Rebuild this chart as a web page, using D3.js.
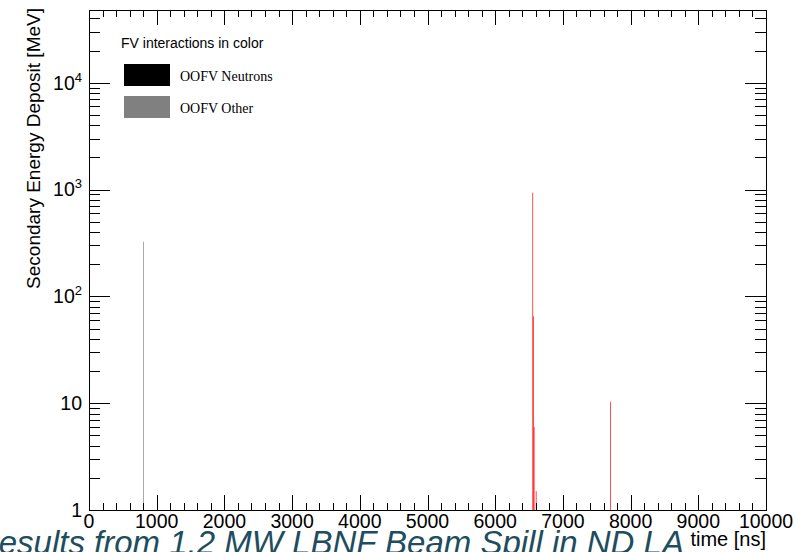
<!DOCTYPE html>
<html>
<head>
<meta charset="utf-8">
<script src="https://cdn.jsdelivr.net/npm/d3@7"></script>
<style>
    body { margin: 0; background: #fff; }
    svg { display: block; font-family: "Liberation Sans", Arial, sans-serif; }
    .serif { font-family: "Liberation Serif", "Times New Roman", serif; }
</style>
</head>
<body>
<div id="chart"></div>
<script>
// Bin width of the histogram in ns
const binWidth = 10;

// FV interactions (drawn in red)
const fvTimes = [6550, 6560, 6570, 6600, 7700];
const fvValues = [935, 65, 6, 1.5, 10.3];

// OOFV other (grey)
const oofvOtherTimes = [800];
const oofvOtherValues = [325];

// OOFV neutrons (black) - nothing visible in this window
const oofvNeutronTimes = [];
const oofvNeutronValues = [];

// Axis ticks
const xMajorTicks = [0, 1000, 2000, 3000, 4000, 5000, 6000, 7000, 8000, 9000, 10000];
const yMajorTicks = [1, 10, 100, 1000, 10000];
const yTickLabels = ["1", "10", "10^2", "10^3", "10^4"];

const legendTitle = "FV interactions in color";
const legendNames = ["OOFV Neutrons", "OOFV Other"];
const legendColors = ["#000000", "#808080"];

const width = 796, height = 552;
const margin = {top: 10, right: 30, bottom: 42, left: 89};

let svg = d3.select("#chart").append("svg")
    .attr("width", width)
    .attr("height", height);

let xScale = d3.scaleLinear()
    .domain([0, 10000])
    .range([margin.left, width - margin.right]);

let yScale = d3.scaleLog()
    .domain([1, 48000])
    .range([height - margin.bottom, margin.top]);

let x0 = xScale.range()[0], x1 = xScale.range()[1];
let y0 = yScale.range()[0], y1 = yScale.range()[1];

// minor ticks: 4 between x majors, 2..9 in each y decade
let xMinorTicks = d3.range(0, 10001, 200).filter(d => d % 1000 !== 0);
let yMinorTicks = [];
yMajorTicks.forEach(p => {
    for (let k = 2; k <= 9; k++) {
        if (k * p <= 48000) yMinorTicks.push(k * p);
    }
});

// Bottom caption (from the slide underneath the plot), runs off the page on the left
let caption = svg.append("text")
    .attr("y", 554)
    .attr("font-size", 33)
    .attr("font-style", "italic")
    .attr("fill", "#1d4d5e")
    .text("Results from 1.2 MW LBNF Beam Spill in ND LAr");
let capNode = caption.node();
let n = capNode.getNumberOfChars();
let endLA = capNode.getSubStringLength(0, n - 1);
caption.attr("x", 684 - endLA);
svg.append("rect")
    .attr("x", 685).attr("y", 529)
    .attr("width", width - 685).attr("height", height - 529)
    .attr("fill", "#fff");

// Spikes
function drawSpikes(times, values, color) {
    svg.append("g").selectAll("rect")
        .data(times.map((t, i) => ({t: t, v: values[i]})))
        .join("rect")
        .attr("x", d => xScale(d.t))
        .attr("width", d => xScale(d.t + binWidth) - xScale(d.t))
        .attr("y", d => yScale(d.v))
        .attr("height", d => y0 - yScale(d.v))
        .attr("fill", color);
}
drawSpikes(oofvNeutronTimes, oofvNeutronValues, "#000000");
drawSpikes(oofvOtherTimes, oofvOtherValues, "#808080");
drawSpikes(fvTimes, fvValues, "#ff0000");

// Axis helper: draw ticks only
function ticks(axis, values, size, transform) {
    let g = svg.append("g")
        .attr("transform", transform)
        .call(axis.tickValues(values).tickSize(size).tickFormat(""));
    g.select(".domain").remove();
    g.selectAll("line").attr("stroke", "#000").attr("shape-rendering", "crispEdges");
    return g;
}

ticks(d3.axisBottom(xScale), xMajorTicks, -15, `translate(0,${y0})`);
ticks(d3.axisBottom(xScale), xMinorTicks, -7, `translate(0,${y0})`);
ticks(d3.axisTop(xScale), xMajorTicks, -15, `translate(0,${y1})`);
ticks(d3.axisTop(xScale), xMinorTicks, -7, `translate(0,${y1})`);
ticks(d3.axisLeft(yScale), yMajorTicks, -21, `translate(${x0},0)`);
ticks(d3.axisLeft(yScale), yMinorTicks, -11, `translate(${x0},0)`);
ticks(d3.axisRight(yScale), yMajorTicks, -21, `translate(${x1},0)`);
ticks(d3.axisRight(yScale), yMinorTicks, -11, `translate(${x1},0)`);

// Frame
svg.append("rect")
    .attr("x", x0).attr("y", y1)
    .attr("width", x1 - x0).attr("height", y0 - y1)
    .attr("fill", "none").attr("stroke", "#000")
    .attr("shape-rendering", "crispEdges");

// X tick labels
svg.append("g").selectAll("text")
    .data(xMajorTicks)
    .join("text")
    .attr("x", d => xScale(d))
    .attr("y", 528)
    .attr("text-anchor", "middle")
    .attr("font-size", 19.5)
    .text(d => d);

// Y tick labels with superscripts
let yLabels = svg.append("g").selectAll("text")
    .data(yMajorTicks)
    .join("text")
    .attr("x", x0 - 7)
    .attr("y", d => yScale(d))
    .attr("dy", "0.35em")
    .attr("text-anchor", "end")
    .attr("font-size", 19.5);
yLabels.each(function (d, i) {
    let parts = yTickLabels[i].split("^");
    let t = d3.select(this);
    t.append("tspan").text(parts[0]);
    if (parts[1]) {
        t.append("tspan").attr("font-size", 13).attr("dy", -8).text(parts[1]);
    }
});

// Axis titles
svg.append("text")
    .attr("x", x1)
    .attr("y", 546)
    .attr("text-anchor", "end")
    .attr("font-size", 20)
    .text("time [ns]");

svg.append("text")
    .attr("transform", `translate(40,8) rotate(-90)`)
    .attr("text-anchor", "end")
    .attr("font-size", 19)
    .text("Secondary Energy Deposit [MeV]");

// Legend
svg.append("text")
    .attr("x", 121).attr("y", 48)
    .attr("font-size", 14)
    .text(legendTitle);

let legend = svg.append("g").selectAll("g")
    .data(legendNames)
    .join("g")
    .attr("transform", (d, i) => `translate(124,${64 + i * 32})`);
legend.append("rect")
    .attr("width", 46).attr("height", 22)
    .attr("fill", (d, i) => legendColors[i]);
legend.append("text")
    .attr("class", "serif")
    .attr("x", 56).attr("y", 17)
    .attr("font-size", 14)
    .text(d => d);
</script>
</body>
</html>
